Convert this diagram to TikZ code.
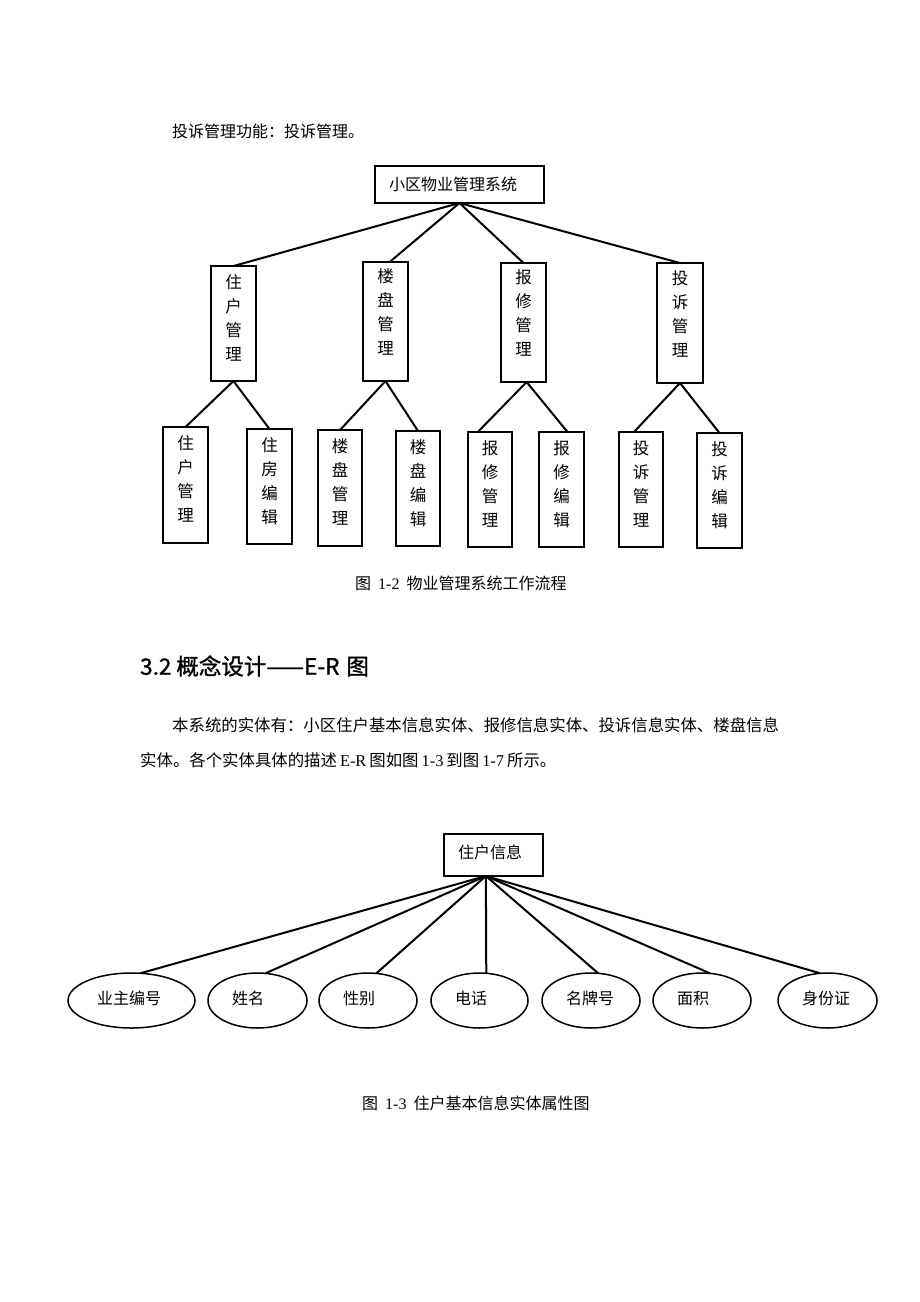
\documentclass[tikz,border=0pt]{standalone}
\usepackage{fontspec}
\setmainfont{Liberation Serif}
\newfontfamily\cjk{Noto Sans CJK SC}
\newfontfamily\cjkh[FakeBold=1.2]{Noto Sans CJK SC}
\newfontfamily\lat{Liberation Serif}
\usetikzlibrary{shapes.geometric}
\begin{document}
\begin{tikzpicture}[x=1pt,y=-1pt,
  box/.style={draw,line width=1.5pt,inner sep=0pt,outer sep=0pt,minimum width=45pt},
  vtext/.style={anchor=north,align=center,inner sep=0pt,yshift=-8pt,font=\cjk\fontsize{16.5}{24}\selectfont},
  conn/.style={line width=2pt},
  attr/.style={draw,ellipse,line width=1.5pt,inner sep=0pt,outer sep=0pt,minimum height=55pt,minimum width=98pt},
  txt/.style={anchor=west,inner sep=0pt,font=\cjk\fontsize{16}{20}\selectfont},
  etext/.style={txt,xshift=24pt,yshift=2.5pt}]
\fill[white] (0,0) rectangle (920,1302);
\useasboundingbox (0,0) rectangle (920,1302);

% header line
\node[txt] (h1) at (172,131) {投诉管理功能：投诉管理。};

% tree
\node[box,minimum width=169pt,minimum height=37pt,label={[txt,xshift=14pt]west:小区物业管理系统}] (top) at (459.5,184.5) {};

\node[box,minimum height=115pt,label={[vtext]north:住\\户\\管\\理}] (b1) at (233.5,323.5) {};
\node[box,minimum height=119pt,label={[vtext,yshift=2pt]north:楼\\盘\\管\\理}] (b2) at (385.5,321.5) {};
\node[box,minimum height=119pt,label={[vtext,yshift=2pt]north:报\\修\\管\\理}] (b3) at (523.5,322.5) {};
\node[box,minimum width=46pt,minimum height=120pt,label={[vtext,yshift=1pt]north:投\\诉\\管\\理}] (b4) at (680,323) {};

\node[box,minimum height=116pt,label={[vtext]north:住\\户\\管\\理}] (c1) at (185.5,485) {};
\node[box,minimum height=115pt,label={[vtext]north:住\\房\\编\\辑}] (c2) at (269.5,486.5) {};
\node[box,minimum width=44pt,minimum height=116pt,label={[vtext]north:楼\\盘\\管\\理}] (c3) at (340,488) {};
\node[box,minimum width=44pt,minimum height=115pt,label={[vtext]north:楼\\盘\\编\\辑}] (c4) at (418,488.5) {};
\node[box,minimum width=44pt,minimum height=115pt,label={[vtext]north:报\\修\\管\\理}] (c5) at (490,489.5) {};
\node[box,minimum height=115pt,label={[vtext]north:报\\修\\编\\辑}] (c6) at (561.5,489.5) {};
\node[box,minimum width=44pt,minimum height=115pt,label={[vtext]north:投\\诉\\管\\理}] (c7) at (641,489.5) {};
\node[box,minimum height=115pt,label={[vtext]north:投\\诉\\编\\辑}] (c8) at (719.5,490.5) {};

\draw[conn] (top.south) -- (b1.north);
\draw[conn] (top.south) -- (b2.86);
\draw[conn] (top.south) -- (b3.north);
\draw[conn] (top.south) -- (b4.north);
\draw[conn] (b1.south) -- (c1.north);
\draw[conn] (b1.south) -- (c2.north);
\draw[conn] (b2.south) -- (c3.north);
\draw[conn] (b2.south) -- (c4.north);
\draw[conn] (b3.-87) -- (c5.102);
\draw[conn] (b3.-87) -- (c6.84);
\draw[conn] (b4.south) -- (c7.97);
\draw[conn] (b4.south) -- (c8.north);

\node[txt] (cap1) at (355,583) {图\hspace{7pt}{\lat 1-2}\hspace{7pt}物业管理系统工作流程};

% section heading and paragraph
\node[txt,font=\cjkh\fontsize{22.5}{26}\selectfont] (sec) at (140,666) {3.2\hspace{5pt}概念设计——E-R\hspace{7pt}图};
\node[txt,font=\cjk\fontsize{16.4}{20}\selectfont] (p1) at (172,725) {本系统的实体有：小区住户基本信息实体、报修信息实体、投诉信息实体、楼盘信息};
\node[txt,font=\cjk\fontsize{16.4}{20}\selectfont] (p2) at (140,760) {实体。各个实体具体的描述\hspace{3pt}{\lat E-R}\hspace{3pt}图如图\hspace{3pt}{\lat 1-3}\hspace{3pt}到图\hspace{3pt}{\lat 1-7}\hspace{3pt}所示。};

% E-R diagram
\node[box,minimum width=99pt,minimum height=42pt,label={[txt,xshift=14pt,yshift=3pt]west:住户信息}] (er) at (493.5,855) {};

\node[attr,minimum width=127pt,label={[etext,xshift=5pt]west:业主编号}] (e1) at (131.5,1000.5) {};
\node[attr,minimum width=99pt,label={[etext]west:姓名}] (e2) at (257.5,1000.5) {};
\node[attr,label={[etext]west:性别}] (e3) at (368,1000.5) {};
\node[attr,minimum width=97pt,label={[etext]west:电话}] (e4) at (479.5,1000.5) {};
\node[attr,label={[etext]west:名牌号}] (e5) at (591,1000.5) {};
\node[attr,label={[etext]west:面积}] (e6) at (702,1000.5) {};
\node[attr,minimum width=99pt,label={[etext]west:身份证}] (e7) at (827.5,1000.5) {};

\draw[conn] (er.-110) -- (e1.72.6);
\draw[conn] (er.-110) -- (e2.74.6);
\draw[conn] (er.-110) -- (e3.73.5);
\draw[conn] (er.-110) -- (e4.76.6);
\draw[conn] (er.-110) -- (e5.75.5);
\draw[conn] (er.-110) -- (e6.73.5);
\draw[conn] (er.-110) -- (e7.105.4);

\node[txt] (cap2) at (362,1103) {图\hspace{7pt}{\lat 1-3}\hspace{7pt}住户基本信息实体属性图};
\end{tikzpicture}
\end{document}
